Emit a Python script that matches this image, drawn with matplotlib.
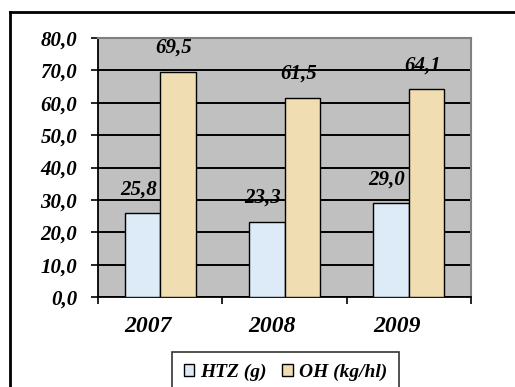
import matplotlib
matplotlib.use("Agg")
import matplotlib.pyplot as plt
import numpy as np
from matplotlib.patches import Rectangle
from matplotlib.lines import Line2D
import matplotlib.transforms as mtrans

years = ["2007", "2008", "2009"]
htz_values = [25.8, 23.3, 29.0]
oh_values = [69.5, 61.5, 64.1]
series_names = ["HTZ (g)", "OH (kg/hl)"]
y_ticks = [0, 10, 20, 30, 40, 50, 60, 70, 80]

W, H = 515, 387
fig = plt.figure(figsize=(W / 100, H / 100), dpi=100)
font = dict(family="Liberation Serif", weight="bold", style="italic")

# outer frame (left and top edges visible)
fig.add_artist(Line2D([9.5 / W, 9.5 / W], [0, 1 - 12 / H], transform=fig.transFigure,
                      color="black", lw=2))
fig.add_artist(Line2D([9.5 / W, 1], [1 - 12 / H, 1 - 12 / H], transform=fig.transFigure,
                      color="black", lw=2))

ax = fig.add_axes([98 / W, 90 / H, 373 / W, 259 / H])
ax.set_facecolor("#C0C0C0")
ax.set_xlim(-0.5, 2.5)
ax.set_ylim(0, 80)

x = np.arange(len(years))
bw = 0.285
b1 = ax.bar(x - bw / 2, htz_values, bw, color="#DDEBF8", edgecolor="black", lw=1, zorder=3)
b2 = ax.bar(x + bw / 2, oh_values, bw, color="#F0DDB2", edgecolor="black", lw=1, zorder=3)

ax.set_yticks(y_ticks)
ax.set_yticklabels([f"{v:.1f}".replace(".", ",") for v in y_ticks], fontsize=15, **font)
ax.grid(axis="y", color="black", lw=1.4, zorder=1)
ax.set_axisbelow(True)
ax.tick_params(axis="y", direction="out", length=5, width=1.2, pad=10, colors="black")

# category boundary ticks
ax.set_xticks([-0.5, 0.5, 1.5, 2.5])
ax.set_xticklabels([])
ax.tick_params(axis="x", direction="out", length=5, width=1.2)
off = mtrans.offset_copy(ax.transData, fig=fig, x=-12, y=0, units="dots")
xt = mtrans.blended_transform_factory(off, ax.transAxes)
for i, yr in enumerate(years):
    ax.text(i, -0.115, yr, transform=xt, ha="center", va="center", fontsize=17, **font)

for side in ["top", "right"]:
    ax.spines[side].set_color("#808080")
    ax.spines[side].set_linewidth(1.5)
ax.spines["left"].set_linewidth(1.3)
ax.spines["bottom"].set_linewidth(1.3)

# value labels
for bars, vals in [(b1, htz_values), (b2, oh_values)]:
    for rect, v in zip(bars, vals):
        ax.annotate(f"{v:.1f}".replace(".", ","),
                    (rect.get_x() + rect.get_width() / 2, v),
                    xytext=(-4, 24), textcoords="offset pixels",
                    ha="center", va="center", fontsize=15, zorder=5, **font)

# legend
leg = fig.legend([Rectangle((0, 0), 1, 1, fc="#DDEBF8", ec="black", lw=1),
                  Rectangle((0, 0), 1, 1, fc="#F0DDB2", ec="black", lw=1)],
                 series_names, loc="upper left",
                 bbox_to_anchor=(172 / W, 1 - 352 / H), ncol=2,
                 prop=dict(family="Liberation Serif", weight="bold", style="italic", size=14),
                 frameon=True, fancybox=False, edgecolor="black",
                 handlelength=0.55, handleheight=0.55, handletextpad=0.3,
                 columnspacing=0.8, borderpad=0.6, borderaxespad=0)
leg.get_frame().set_linewidth(1.2)

fig.savefig("out.png", dpi=100, facecolor="white")
